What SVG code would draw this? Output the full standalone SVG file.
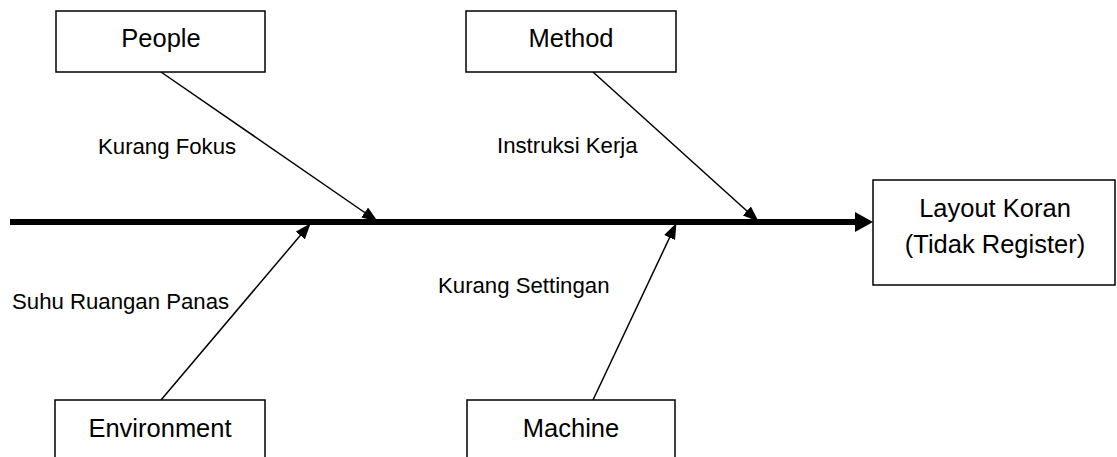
<svg xmlns="http://www.w3.org/2000/svg" width="1117" height="457" viewBox="0 0 1117 457">
  <style>
    .box { fill: #ffffff; stroke: #000000; stroke-width: 1.5; }
    .title { font-family: "Liberation Sans", Arial, sans-serif; font-size: 25.5px; fill: #000000; text-anchor: middle; }
    .cause { font-family: "Liberation Sans", Arial, sans-serif; font-size: 22.2px; fill: #000000; }
    .bone { stroke: #000000; stroke-width: 1.5; fill: none; marker-end: url(#tip); }
  </style>
  <defs>
    <marker id="tip" markerUnits="userSpaceOnUse" markerWidth="16" markerHeight="12" refX="15" refY="6" orient="auto">
      <path d="M0,0 L16,6 L0,12 Z" fill="#000000"/>
    </marker>
  </defs>
  <rect width="1117" height="457" fill="#ffffff"/>

  <!-- spine and branch connectors -->
  <g id="connectors">
    <line x1="10" y1="222" x2="858" y2="222" stroke="#000000" stroke-width="6"/>
    <polygon points="855,212 873,222 855,232" fill="#000000"/>
    <line class="bone" x1="161" y1="72" x2="377" y2="221"/>
    <line class="bone" x1="593" y1="72" x2="758" y2="221"/>
    <line class="bone" x1="161" y1="400" x2="310" y2="224"/>
    <line class="bone" x1="593" y1="400" x2="676" y2="224"/>
  </g>

  <!-- cause labels -->
  <g id="causes">
    <text class="cause" x="98" y="154">Kurang Fokus</text>
    <text class="cause" x="497" y="153">Instruksi Kerja</text>
    <text class="cause" x="12" y="309">Suhu Ruangan Panas</text>
    <text class="cause" x="438" y="293">Kurang Settingan</text>
  </g>

  <g id="people">
    <rect class="box" x="56" y="11" width="209" height="61"/>
    <text class="title" x="161" y="47">People</text>
  </g>
  <g id="method">
    <rect class="box" x="466" y="11" width="210" height="61"/>
    <text class="title" x="571" y="47">Method</text>
  </g>
  <g id="environment">
    <rect class="box" x="55" y="400" width="210" height="70"/>
    <text class="title" x="160" y="437">Environment</text>
  </g>
  <g id="machine">
    <rect class="box" x="467" y="400" width="208" height="70"/>
    <text class="title" x="571" y="437">Machine</text>
  </g>
  <g id="effect">
    <rect class="box" x="873" y="180" width="242" height="105"/>
    <text class="title" x="995" y="217">Layout Koran</text>
    <text class="title" x="995" y="253">(Tidak Register)</text>
  </g>
</svg>
